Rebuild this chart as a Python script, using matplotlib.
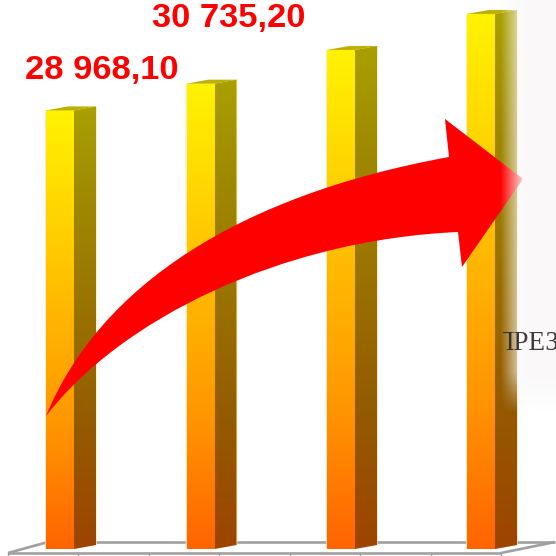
import numpy as np
import matplotlib
matplotlib.use('Agg')
import matplotlib.pyplot as plt
from matplotlib.patches import Polygon, PathPatch, Rectangle
from matplotlib.path import Path

values = [28968.10, 30735.20, 32960.0, 35340.0]
labels = ['28 968,10', '30 735,20']

SIZE = 556
BASE_Y = 549          # pixel row of value 0
PX_PER_UNIT = 0.01514
BAR_LEFT = [46, 186.5, 327, 467]
BAR_W = 28
DEPTH = 22
RISE = 4


def gradient(stops, n=256):
    # vertical colour ramp, row 0 is the top
    pos = [s[0] for s in stops]
    out = np.zeros((n, 1, 3))
    t = np.linspace(0, 1, n)
    for c in range(3):
        out[:, 0, c] = np.interp(t, pos, [s[1][c] / 255 for s in stops])
    return out


front = gradient([(0, (255, 243, 0)), (0.18, (255, 220, 0)), (0.73, (255, 148, 0)), (1, (255, 100, 0))])
side = gradient([(0, (170, 160, 0)), (0.18, (160, 140, 0)), (0.73, (148, 90, 0)), (1, (158, 68, 0))])

fig = plt.figure(figsize=(5.56, 5.56), dpi=100)

# floor sits behind the bars
floor = fig.add_axes([0, 0, 1, 1], facecolor='none')
floor.axis('off')
floor.set_zorder(0)

# bars live in an axes whose y scale is the value itself
ax = fig.add_axes([0, 0, 1, 1], facecolor='none')
ax.axis('off')
ax.set_zorder(1)

# everything else is drawn in pixel coordinates
over = fig.add_axes([0, 0, 1, 1], facecolor='none')
over.axis('off')
over.set_zorder(2)

grey = '#a0a0a0'
floor_style = dict(color=grey, lw=1.9, solid_capstyle='butt', zorder=1)
floor.plot([48, 555], [542, 542], **floor_style)
floor.plot([8, 501], [553, 553], **floor_style)
floor.plot([8, 48], [553, 542], **floor_style)
floor.plot([501, 555], [553, 542], **floor_style)
for fx in np.linspace(8, 501, 8):
    floor.plot([fx, fx], [553, 556], color=grey, lw=1)
floor.set_xlim(0, SIZE)
floor.set_ylim(SIZE, 0)

# bars
dv = RISE / PX_PER_UNIT
for left, v in zip(BAR_LEFT, values):
    # soft pale rim round the bar
    ax.add_patch(Polygon([(left - 1, 0), (left + BAR_W, 0), (left + BAR_W + DEPTH + 1, dv),
                          (left + BAR_W + DEPTH + 1, v + dv), (left - 1, v)],
                         facecolor='#ffe3a8', alpha=0.7, edgecolor='none', zorder=2))
    im = ax.imshow(front, extent=(left, left + BAR_W, 0, v), aspect='auto', zorder=3,
                   interpolation='bilinear')
    im.set_clip_path(Rectangle((left, 0), BAR_W, v, transform=ax.transData))
    im2 = ax.imshow(side, extent=(left + BAR_W, left + BAR_W + DEPTH, 0, v + dv), aspect='auto',
                    zorder=3, interpolation='bilinear')
    im2.set_clip_path(Polygon([(left + BAR_W, 0), (left + BAR_W + DEPTH, dv),
                               (left + BAR_W + DEPTH, v + dv), (left + BAR_W, v)],
                              transform=ax.transData))
    ax.add_patch(Polygon([(left, v), (left + BAR_W, v), (left + BAR_W + DEPTH, v + dv),
                          (left + DEPTH, v + dv)], facecolor='#bdb000', edgecolor='none', zorder=3))
ax.set_xlim(0, SIZE)
ax.set_ylim((BASE_Y - SIZE) / PX_PER_UNIT, BASE_Y / PX_PER_UNIT)

# value labels
over.text(25, 79, labels[0], color='#ff0000', fontsize=24.8, fontweight='bold',
          family='Liberation Sans', va='baseline', ha='left', zorder=6)
over.text(152, 27.5, labels[1], color='#ff0000', fontsize=24.8, fontweight='bold',
          family='Liberation Sans', va='baseline', ha='left', zorder=6)

# big arrow
verts = [(46, 416),
         (100, 285), (240, 195), (449, 157),
         (445, 119), (523, 179), (462, 267), (458, 232),
         (280, 240), (120, 320), (46, 416)]
codes = [Path.MOVETO,
         Path.CURVE4, Path.CURVE4, Path.CURVE4,
         Path.LINETO, Path.LINETO, Path.LINETO, Path.LINETO,
         Path.CURVE4, Path.CURVE4, Path.CURVE4]
over.add_patch(PathPatch(Path(verts, codes), facecolor='#ff0000', edgecolor='none', zorder=5))

# pale panel on the right that fades out over the last bar
px = np.arange(490, SIZE)
py = np.arange(0, 440)
alpha_x = np.interp(px, [500, 516, 526], [0, 0.6, 1])
alpha_y = np.interp(py, [372, 412], [1, 0])
panel = np.ones((len(py), len(px), 4))
panel[:, :, 0] = 250 / 255
panel[:, :, 1] = 248 / 255
panel[:, :, 2] = 248 / 255
panel[:, :, 3] = np.outer(alpha_y, alpha_x)
over.imshow(panel, extent=(490, SIZE, 440, 0), aspect='auto', zorder=5.5, interpolation='bilinear')
over.set_xlim(0, SIZE)
over.set_ylim(SIZE, 0)

# caption runs off the picture in the reference too, left end hidden by the fade
cap = over.text(494, 350, 'ПРЕЗ', color='#262626', fontsize=19.5, family='Liberation Serif',
                va='baseline', ha='left', zorder=6, alpha=0.9)
cap.set_clip_on(True)
cap.set_clip_path(Rectangle((503, 320), 60, 50, transform=over.transData))

fig.savefig('out.png', dpi=100)
